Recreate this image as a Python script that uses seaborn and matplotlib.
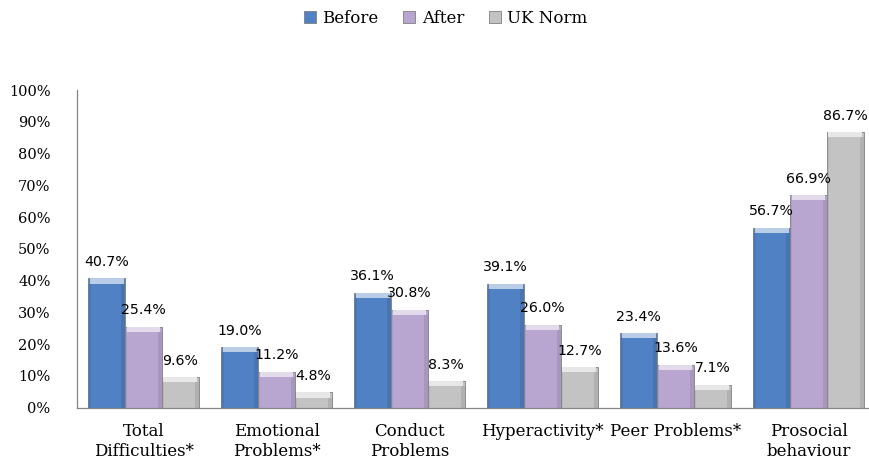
import pandas as pd
import matplotlib.pyplot as plt
import seaborn as sns
from matplotlib.patches import Rectangle
from matplotlib.ticker import FixedLocator, FuncFormatter
import matplotlib.colors as mcolors

# 数据
categories = ["Total\nDifficulties*", "Emotional\nProblems*", "Conduct\nProblems",
              "Hyperactivity*", "Peer Problems*", "Prosocial\nbehaviour"]
groups = ["Before", "After", "UK Norm"]
before = [40.7, 19.0, 36.1, 39.1, 23.4, 56.7]
after = [25.4, 11.2, 30.8, 26.0, 13.6, 66.9]
uk_norm = [9.6, 4.8, 8.3, 12.7, 7.1, 86.7]
colors = ["#4F81C4", "#B9A6D0", "#C3C3C3"]

df = pd.DataFrame({
    "category": categories * 3,
    "group": [g for g in groups for _ in categories],
    "value": before + after + uk_norm,
})

sns.set_style("white")
plt.rcParams["font.family"] = ["DejaVu Serif"]
plt.rcParams["text.color"] = "black"
plt.rcParams["xtick.labelcolor"] = "black"
plt.rcParams["ytick.labelcolor"] = "black"

fig = plt.figure(figsize=(8.69, 4.63), dpi=100)
ax = fig.add_axes([0.0886, 0.1194, 0.9183, 0.686])

sns.barplot(data=df, x="category", y="value", hue="group", palette=colors,
            width=0.83, gap=0, saturation=1, ax=ax,
            edgecolor="#7f7f7f", linewidth=0.6)

# 斜面效果（顶部高光）
for cont, c in zip(ax.containers, colors):
    light = mcolors.to_rgb(c)
    light = tuple(min(1, v + (1 - v) * 0.6) for v in light)
    dark = tuple(v * 0.75 for v in mcolors.to_rgb(c))
    for p in cont.patches:
        x, w, h = p.get_x(), p.get_width(), p.get_height()
        ax.add_patch(Rectangle((x + w * 0.04, h - 1.6), w * 0.92, 1.6,
                               facecolor=light, edgecolor="none", zorder=3))
        ax.add_patch(Rectangle((x + w * 0.9, 0), w * 0.1, h - 1.6,
                               facecolor=dark, edgecolor="none", alpha=0.35, zorder=3))
        ax.add_patch(Rectangle((x, 0), w * 0.06, h - 1.6,
                               facecolor=dark, edgecolor="none", alpha=0.25, zorder=3))

# 数据标签
for cont, vals in zip(ax.containers, [before, after, uk_norm]):
    ax.bar_label(cont, labels=[f"{v:.1f}%" for v in vals], padding=7,
                 fontsize=10.2, family=["DejaVu Sans"], color="black")

ax.set_ylim(0, 100)
ax.set_xlim(-0.5, 5.5)
ax.yaxis.set_major_locator(FixedLocator(range(0, 101, 10)))
ax.yaxis.set_major_formatter(FuncFormatter(lambda v, _: f"{v:.0f}%"))
ax.xaxis.set_minor_locator(FixedLocator([i - 0.5 for i in range(7)]))

ax.set_xlabel("")
ax.set_ylabel("")
for s in ["top", "right"]:
    ax.spines[s].set_visible(False)
for s in ["left", "bottom"]:
    ax.spines[s].set_color("#868686")
    ax.spines[s].set_linewidth(0.9)

ax.tick_params(axis="y", which="major", direction="out", length=5, width=0.9,
               color="#868686", labelsize=10.5, pad=14, labelcolor="black")
ax.tick_params(axis="x", which="major", length=0, labelsize=12, pad=11,
               labelcolor="black")
ax.tick_params(axis="x", which="minor", direction="out", length=5, width=0.9,
               color="#868686")

# 图例
handles, labels = ax.get_legend_handles_labels()
ax.get_legend().remove()
fig.legend(handles, labels, loc="center", bbox_to_anchor=(0.513, 0.961), ncol=3,
           frameon=False, fontsize=12, handlelength=0.7, handleheight=0.7,
           handletextpad=0.4, columnspacing=1.5)

plt.savefig("out.png", dpi=100)
plt.close()
